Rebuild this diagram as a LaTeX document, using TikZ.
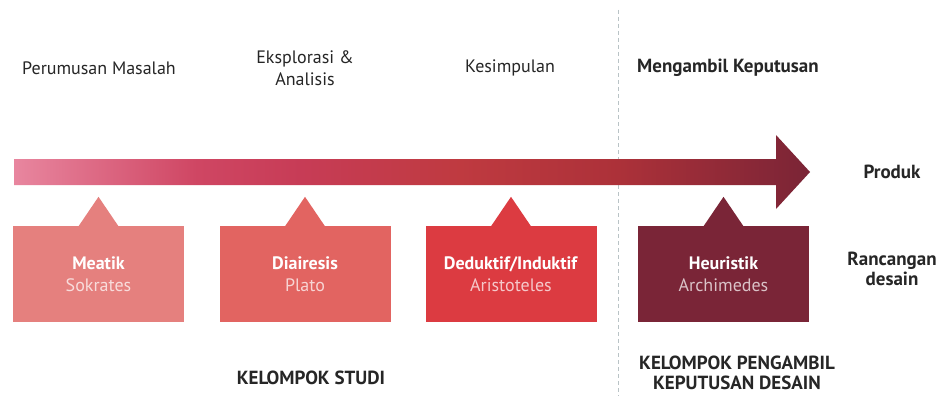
\documentclass[tikz,border=0pt]{standalone}
\usepackage{fontspec}
\setmainfont{PT Sans}
\definecolor{flowA}{HTML}{E8869F}
\definecolor{flowB}{HTML}{CF4663}
\definecolor{flowC}{HTML}{C73C56}
\definecolor{flowD}{HTML}{BF3A40}
\definecolor{flowE}{HTML}{AC3139}
\definecolor{flowF}{HTML}{7A2436}
\definecolor{boxA}{HTML}{E5807E}
\definecolor{boxB}{HTML}{E26461}
\definecolor{boxC}{HTML}{DC3B41}
\definecolor{boxD}{HTML}{7A2537}
\definecolor{labeltext}{HTML}{262626}
\definecolor{divider}{HTML}{B9C3C6}
% the shaded path covers the band 25bp..75bp of the shading
\pgfdeclarehorizontalshading{flow}{100bp}{color(0bp)=(flowA); color(25bp)=(flowA); color(36.5bp)=(flowB); color(43bp)=(flowC); color(53bp)=(flowD); color(63bp)=(flowE); color(75bp)=(flowF); color(100bp)=(flowF)}
\begin{document}
\begin{tikzpicture}[x=1pt,y=-1pt,
  stage/.style={font=\fontsize{18}{22}\selectfont, text=labeltext, align=center, inner sep=0pt},
  boldlabel/.style={stage, font=\fontsize{19}{20}\selectfont\bfseries},
  method/.style={minimum width=171pt, minimum height=96pt, inner sep=0pt, text=white, align=center, font=\fontsize{18}{22}\selectfont}]
\useasboundingbox (0,0) rectangle (939,396);
\fill[white] (0,0) rectangle (939,396);

% divider between the two groups
\draw[divider, dash pattern=on 4pt off 3pt, line width=0.8pt] (618,10) coordinate (dtop) -- (618,396) coordinate (dbot);

% process arrow
\shade[shading=flow] (14,159) -- (776,159) -- (776,135) -- (810,172) -- (776,209) -- (776,185) -- (14,185) -- cycle;

% method boxes with their pointers
\foreach \nm/\cx/\col/\title/\who in {m1/98.5/boxA/Meatik/Sokrates, m2/305/boxB/Diairesis/Plato, m3/511/boxC/Deduktif\slash Induktif/Aristoteles, m4/723.5/boxD/Heuristik/Archimedes}{
  \node[method, fill=\col] (\nm) at (\cx,274) {\textbf{\title}\\{\color{white!72!\col}\who}};
  \fill[\col] (\nm.north) ++(-20,0.5) -- ++(20,-29.5) -- ++(20,29.5) -- cycle;
}

% stage labels
\node[stage] (s1) at (99,68) {Perumusan Masalah};
\node[stage] (s2) at (305,68) {Eksplorasi \&\\Analisis};
\node[stage] (s3) at (510,68) {Kesimpulan};
\node[boldlabel, anchor=west] (s4) at (637,68) {Mengambil Keputusan};

% outcome labels
\node[boldlabel] (o1) at (892,172) {Produk};
\node[boldlabel] (o2) at (892,269) {Rancangan\\desain};

% group labels
\node[boldlabel] (g1) at (311,378) {KELOMPOK STUDI};
\node[boldlabel] (g2) at (737,373) {KELOMPOK PENGAMBIL\\KEPUTUSAN DESAIN};
\end{tikzpicture}
\end{document}
